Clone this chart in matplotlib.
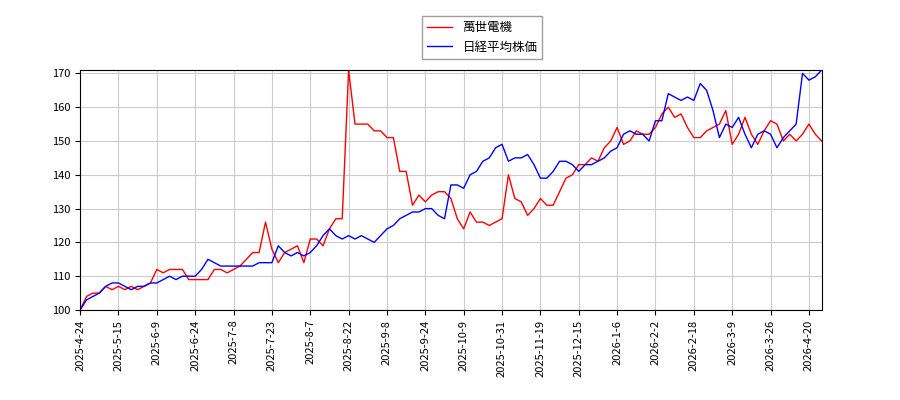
import matplotlib
matplotlib.use("Agg")
import matplotlib.pyplot as plt

plt.rcParams['font.family'] = ['Noto Sans CJK JP', 'DejaVu Sans']

tick_labels = ["2025-4-24", "2025-5-15", "2025-6-9", "2025-6-24", "2025-7-8",
               "2025-7-23", "2025-8-7", "2025-8-22", "2025-9-8", "2025-9-24",
               "2025-10-9", "2025-10-31", "2025-11-19", "2025-12-15", "2026-1-6",
               "2026-2-2", "2026-2-18", "2026-3-9", "2026-3-26", "2026-4-20"]

stock = [100, 104, 105, 105, 107, 106,
         107, 106, 107, 106, 107, 108,
         112, 111, 112, 112, 112, 109,
         109, 109, 109, 112, 112, 111,
         112, 113, 115, 117, 117, 126,
         118, 114, 117, 118, 119, 114,
         121, 121, 119, 124, 127, 127,
         171, 155, 155, 155, 153, 153,
         151, 151, 141, 141, 131, 134,
         132, 134, 135, 135, 133, 127,
         124, 129, 126, 126, 125, 126,
         127, 140, 133, 132, 128, 130,
         133, 131, 131, 135, 139, 140,
         143, 143, 145, 144, 148, 150,
         154, 149, 150, 153, 152, 152,
         154, 158, 160, 157, 158, 154,
         151, 151, 153, 154, 155, 159,
         149, 152, 157, 152, 149, 153,
         156, 155, 150, 152, 150, 152,
         155, 152, 150]

nikkei = [100, 103, 104, 105, 107, 108,
          108, 107, 106, 107, 107, 108,
          108, 109, 110, 109, 110, 110,
          110, 112, 115, 114, 113, 113,
          113, 113, 113, 113, 114, 114,
          114, 119, 117, 116, 117, 116,
          117, 119, 122, 124, 122, 121,
          122, 121, 122, 121, 120, 122,
          124, 125, 127, 128, 129, 129,
          130, 130, 128, 127, 137, 137,
          136, 140, 141, 144, 145, 148,
          149, 144, 145, 145, 146, 143,
          139, 139, 141, 144, 144, 143,
          141, 143, 143, 144, 145, 147,
          148, 152, 153, 152, 152, 150,
          156, 156, 164, 163, 162, 163,
          162, 167, 165, 159, 151, 155,
          154, 157, 152, 148, 152, 153,
          152, 148, 151, 153, 155, 170,
          168, 169, 171]

tick_step = 6

fig = plt.figure(figsize=(9, 4), dpi=100)
ax = fig.add_axes([0.089, 0.225, 0.824, 0.6])
x = list(range(len(stock)))
ax.plot(x, stock, color="red", lw=1, label="萬世電機")
ax.plot(x, nikkei, color="blue", lw=1, label="日経平均株価")

ax.set_xlim(0, len(stock) - 1)
ax.set_ylim(100, 171)
ax.set_xticks([i * tick_step for i in range(len(tick_labels))])
ax.set_xticklabels(tick_labels, rotation=90, fontsize=8)
ax.tick_params(axis="y", labelsize=8)
ax.grid(True, color="#cccccc", lw=0.8)

fig.legend(loc="upper center", bbox_to_anchor=(0.536, 0.975), fontsize=9,
           fancybox=False, edgecolor="#888888")
fig.savefig("out.png", dpi=100)
